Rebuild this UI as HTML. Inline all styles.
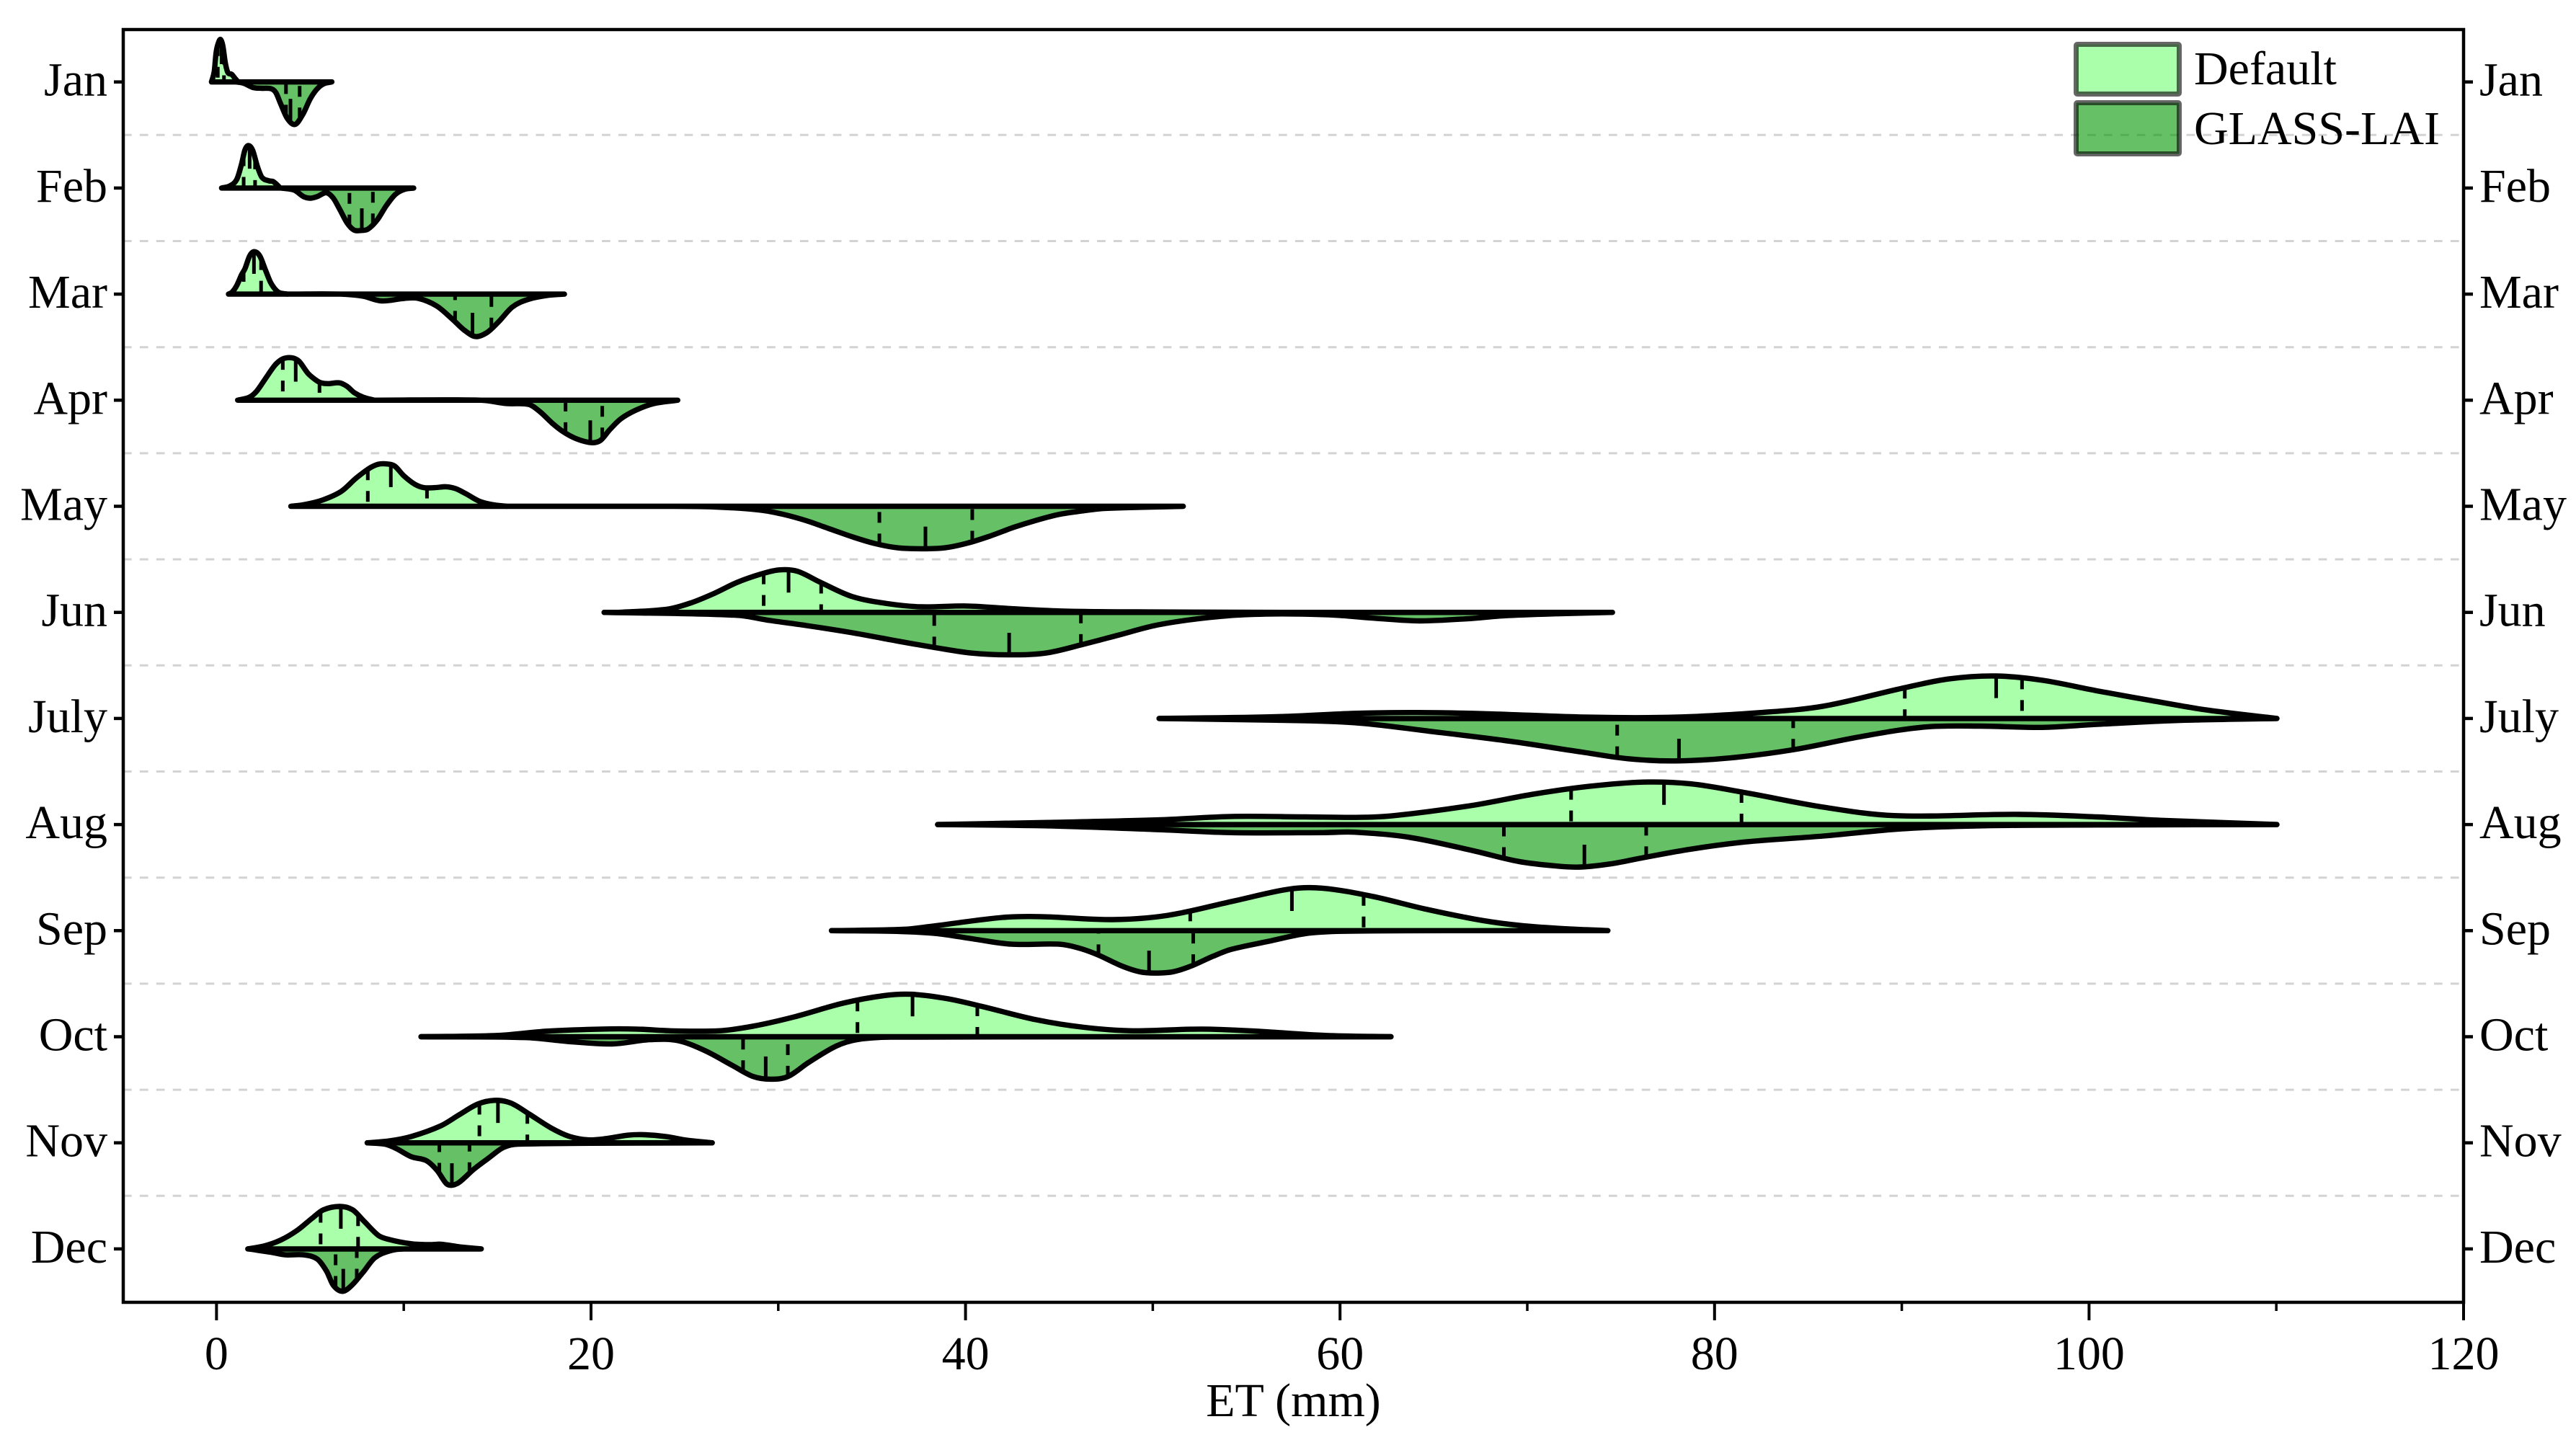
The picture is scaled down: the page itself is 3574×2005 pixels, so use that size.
<!DOCTYPE html>
<html lang="en">
<head>
<meta charset="utf-8">
<title>Monthly ET distribution: Default vs GLASS-LAI</title>
<style>
html,body{margin:0;padding:0;background:#fff;}
svg{display:block;}
text{font-family:"Liberation Serif","Times New Roman",serif;fill:#000;}
</style>
</head>
<body>
<svg id="chart" xmlns="http://www.w3.org/2000/svg" width="3574" height="2005" viewBox="0 0 3574 2005"></svg>
<script>
const months = ["Jan","Feb","Mar","Apr","May","Jun","July","Aug","Sep","Oct","Nov","Dec"];
const xMajorTicks = [0,20,40,60,80,100,120];
const xMinorTicks = [10,30,50,70,90,110];
const seriesNames = ["Default","GLASS-LAI"];

const defaultEt = [
 [-0.27,-0.12,-0.02,0.1,0.22,0.34,0.47,0.61,0.81,0.96,1.15],
 [0.27,0.71,1.08,1.33,1.52,1.72,1.94,2.19,2.43,2.8,3.04,3.41],
 [0.64,0.84,1.08,1.33,1.52,1.77,2.01,2.31,2.63,2.92,3.29,3.78],
 [1.13,1.75,2.14,2.63,3.13,3.52,4.01,4.4,4.89,5.29,5.58,5.97,6.56,6.96,7.35,7.84,8.43],
 [3.97,4.7,5.68,6.66,7.45,8.14,8.63,9.02,9.51,10.0,10.59,11.08,11.67,12.26,12.75,13.34,14.03,14.72,15.5],
 [20.7,21.68,24.14,25.37,26.59,27.82,29.05,30.03,31.01,32.24,33.96,35.92,37.64,40.09,42.55,45.25,49.9,57.7,74.5],
 [50.34,56.6,60.78,64.12,67.87,73.3,77.89,82.48,85.82,90.0,92.5,95.0,97.5,100.43,103.35,106.27,110.03],
 [38.51,44.4,50.3,54.2,58.15,61.1,62.9,67.04,70.38,73.3,76.2,78.72,81.65,85.82,89.58,96.25,100.43,103.77,110.03],
 [32.84,36.67,38.14,41.97,44.03,47.86,50.8,54.34,57.29,59.06,61.7,64.65,67.6,69.66,72.02,74.3],
 [10.92,15.04,17.62,20.57,22.41,24.25,26.83,28.67,30.88,33.45,35.66,37.13,38.98,40.82,43.76,46.34,48.92,52.6,55.54,59.2,62.72],
 [8.05,9.23,10.41,11.98,12.96,13.94,14.83,15.71,16.69,17.87,18.85,19.84,20.82,21.99,22.88,23.96,25.14,26.47],
 [1.67,2.55,3.44,4.32,5.1,5.7,6.58,7.27,7.86,8.64,9.23,10.41,11.39,11.98,12.96,14.14]
];
const defaultDensity = [
 [0,0.25,0.7,0.92,1,0.85,0.45,0.22,0.18,0.1,0],
 [0,0.05,0.2,0.55,0.9,1,0.88,0.5,0.25,0.17,0.15,0],
 [0,0.05,0.2,0.45,0.6,0.9,1,0.9,0.55,0.25,0.05,0],
 [0,0.07,0.21,0.52,0.83,0.97,1,0.92,0.63,0.48,0.41,0.39,0.41,0.33,0.18,0.07,0],
 [0,0.04,0.15,0.35,0.66,0.89,0.99,1,0.95,0.72,0.52,0.44,0.44,0.46,0.42,0.29,0.12,0.04,0],
 [0,0.005,0.08,0.23,0.45,0.71,0.9,1,0.97,0.71,0.37,0.2,0.13,0.15,0.085,0.03,0.01,0,0],
 [0,0.04,0.12,0.14,0.11,0.03,0.03,0.14,0.29,0.71,0.93,1,0.9,0.65,0.42,0.2,0],
 [0,0.05,0.11,0.19,0.18,0.17,0.21,0.45,0.72,0.9,1,0.96,0.75,0.41,0.21,0.24,0.18,0.1,0],
 [0,0.03,0.1,0.31,0.33,0.26,0.36,0.7,0.98,1,0.81,0.5,0.24,0.12,0.045,0],
 [0,0.03,0.13,0.18,0.18,0.14,0.14,0.25,0.47,0.79,0.97,1,0.9,0.72,0.4,0.22,0.14,0.18,0.13,0.03,0],
 [0,0.045,0.15,0.4,0.66,0.91,1,0.94,0.68,0.35,0.15,0.07,0.1,0.18,0.19,0.15,0.06,0],
 [0,0.07,0.21,0.44,0.72,0.92,1,0.92,0.66,0.32,0.22,0.12,0.1,0.11,0.05,0]
];
const glassEt = [
 [1.08,1.45,1.94,2.43,2.92,3.17,3.41,3.78,4.2,4.64,5.0,5.38,5.74,6.16],
 [3.41,4.15,4.64,5.0,5.38,5.87,6.24,6.6,6.97,7.34,7.71,8.08,8.57,9.06,9.55,10.04,10.53],
 [3.78,6.6,7.83,8.8,10.04,10.78,11.76,12.62,13.23,13.84,14.46,15.07,15.81,16.67,17.65,18.58],
 [8.43,14.13,15.5,16.68,17.27,17.95,18.54,19.23,20.02,20.5,20.99,21.59,22.37,23.35,24.63],
 [15.5,23.77,26.59,29.05,30.27,31.5,32.73,33.96,35.18,36.41,37.64,38.87,40.09,41.32,42.55,43.78,45.0,46.23,47.46,51.63],
 [20.7,27.82,29.54,31.5,33.96,36.41,38.38,40.34,42.3,44.27,46.23,48.13,50.1,52.06,54.0,56.0,57.95,59.9,61.9,64.24,66.8,68.75,71.7,74.55],
 [50.34,56.6,60.78,64.95,69.13,72.88,75.39,77.89,80.81,84.15,87.91,91.25,94.17,97.5,100.43,104.6,110.03],
 [38.51,44.4,50.3,54.2,59.13,60.78,63.7,67.04,69.54,71.63,72.88,74.55,76.2,78.72,81.65,85.82,90.0,94.17,100.4,110.03],
 [32.84,36.55,38.5,40.48,42.44,45,45.98,46.96,48.33,49.3,50.1,51.08,52.07,53.24,54.2,56.2,58.15,60.12,67.3,74.3],
 [10.92,16.52,18.73,21.12,23.14,24.62,26.09,27.56,28.67,29.59,30.51,31.61,33.09,34.19,36,62.72],
 [8.05,9.03,9.62,10.41,11.2,11.78,12.27,12.57,12.96,13.75,14.53,15.32,16.1,26.47],
 [1.69,2.92,3.66,4.64,5.38,5.87,6.24,6.73,7.22,7.83,8.45,9.3,10.04,14.09]
];
const glassDensity = [
 [0,0.03,0.13,0.15,0.16,0.25,0.5,0.86,1,0.74,0.4,0.16,0.04,0],
 [0,0.05,0.2,0.24,0.2,0.11,0.24,0.52,0.82,0.99,1,0.97,0.76,0.42,0.15,0.03,0],
 [0,0,0.05,0.16,0.1,0.1,0.28,0.6,0.85,1,0.9,0.65,0.3,0.12,0.03,0],
 [0,0,0.08,0.1,0.27,0.55,0.75,0.91,1,0.95,0.7,0.44,0.24,0.08,0],
 [0,0,0.015,0.09,0.19,0.34,0.53,0.72,0.88,0.98,1,0.98,0.87,0.7,0.5,0.33,0.19,0.11,0.05,0],
 [0,0.07,0.19,0.31,0.48,0.68,0.83,0.96,1,0.96,0.76,0.54,0.31,0.17,0.08,0.04,0.04,0.07,0.14,0.2,0.15,0.08,0.03,0],
 [0,0.04,0.1,0.31,0.54,0.79,0.95,1,0.93,0.74,0.42,0.2,0.18,0.21,0.14,0.05,0],
 [0,0.03,0.12,0.19,0.19,0.18,0.3,0.61,0.87,0.98,1,0.92,0.78,0.58,0.41,0.27,0.1,0.03,0.01,0],
 [0,0.02,0.07,0.2,0.32,0.32,0.4,0.55,0.83,0.97,1,0.97,0.83,0.6,0.44,0.25,0.07,0.015,0,0],
 [0,0.02,0.11,0.17,0.07,0.09,0.33,0.68,0.94,1,0.94,0.61,0.22,0.07,0.01,0],
 [0,0.035,0.14,0.33,0.42,0.65,0.96,1,0.93,0.62,0.36,0.11,0.03,0],
 [0,0.08,0.14,0.14,0.24,0.52,0.86,1,0.86,0.55,0.21,0.04,0,0]
];
const defaultQuartiles = [
 [0.07,0.27,0.4],[1.45,1.77,2.06],[1.45,2.0,2.38],[3.54,4.23,5.5],
 [8.08,9.31,11.24],[29.22,30.55,32.29],[90.16,95.04,96.42],[72.34,77.3,81.44],
 [52.0,57.43,61.26],[34.23,37.17,40.63],[14.04,15.03,16.6],[5.56,6.64,7.56]
];
const glassQuartiles = [
 [3.71,3.95,4.44],[7.1,7.76,8.35],[12.74,13.67,14.68],[18.64,19.96,20.6],
 [35.4,37.86,40.36],[38.33,42.33,46.16],[74.8,78.1,84.2],[68.75,73.05,76.35],
 [47.1,49.8,52.16],[28.12,29.33,30.51],[11.9,12.57,13.51],[6.36,6.77,7.49]
];

const NS = "http://www.w3.org/2000/svg";
const svg = document.getElementById("chart");
const plotLeft = 171, plotRight = 3418, plotTop = 41, plotBottom = 1807;
const lightGreen = "#aaffaa", darkGreen = "#66c066";
const labelSize = 66;

function xScale(v){ return plotLeft + (v + 4.98) * (plotRight - plotLeft) / 124.98; }
function yCenter(i){ return 113.7 + 147.2 * i; }
function densityOffset(d){ return d * 0.4 * 147.2; }

function make(tag, attrs, parent){
  const node = document.createElementNS(NS, tag);
  for (const k in attrs) node.setAttribute(k, attrs[k]);
  (parent || svg).appendChild(node);
  return node;
}

/* Smooth cubic path: central-difference tangents so peaks stay rounded */
function smoothPath(px, py){
  const n = px.length, m = [];
  for (let i = 0; i < n; i++){
    const a = Math.max(i - 1, 0), b = Math.min(i + 1, n - 1);
    m[i] = (py[b] - py[a]) / ((px[b] - px[a]) || 1e-6);
  }
  let path = "M" + px[0].toFixed(1) + "," + py[0].toFixed(1);
  for (let i = 0; i < n - 1; i++){
    const h = (px[i+1] - px[i]) / 3;
    path += "C" + (px[i]+h).toFixed(1) + "," + (py[i]+m[i]*h).toFixed(1) + " " +
            (px[i+1]-h).toFixed(1) + "," + (py[i+1]-m[i+1]*h).toFixed(1) + " " +
            px[i+1].toFixed(1) + "," + py[i+1].toFixed(1);
  }
  return path;
}

function densityAt(et, den, v){
  if (v <= et[0]) return den[0];
  for (let i = 1; i < et.length; i++){
    if (v <= et[i]) {
      const t = (v - et[i-1]) / (et[i] - et[i-1]);
      return den[i-1] + t * (den[i] - den[i-1]);
    }
  }
  return den[den.length - 1];
}

/* grid lines between months */
const gridGroup = make("g", {});


for (let i = 0; i < months.length - 1; i++){
  const yg = (yCenter(i) + yCenter(i+1)) / 2;
  const grid = make("line", {x1:plotLeft, x2:plotRight, y1:yg, y2:yg, stroke:"#d3d3d3", "stroke-width":3, "stroke-dasharray":"11.7 11.2"}, gridGroup);
  
  
}

/* violins */
function drawHalf(i, et, den, quart, sign, fill, label){
  const group = make("g", {});
  
  
  const cy = yCenter(i);
  const px = et.map(xScale);
  const py = den.map(function(d){ return cy - sign * densityOffset(d); });
  const body = make("path", {
    d: smoothPath(px, py) + "L" + px[0].toFixed(1) + "," + cy.toFixed(1) + "Z",
    fill: fill, stroke:"#000", "stroke-width":7.4, "stroke-linejoin":"round", "stroke-linecap":"round"
  }, group);
  
  
  quart.forEach(function(q, k){
    const outer = cy - sign * densityOffset(densityAt(et, den, q));
    const isMedian = k === 1;
    const mark = make("line", {
      x1:xScale(q), x2:xScale(q), y1:outer, y2:cy, stroke:"#000",
      "stroke-width": 5, "stroke-dasharray": isMedian ? "30.5 30.5" : "15 15"
    }, group);
    
    
  });
}
for (let i = 0; i < months.length; i++){
  drawHalf(i, glassEt[i], glassDensity[i], glassQuartiles[i], -1, darkGreen, 'glass-lai');
  drawHalf(i, defaultEt[i], defaultDensity[i], defaultQuartiles[i], 1, lightGreen, 'default');
}

/* frame */
const frame = make("rect", {x:plotLeft, y:plotTop, width:plotRight-plotLeft, height:plotBottom-plotTop, fill:"none", stroke:"#000", "stroke-width":4.5});



/* x axis */
xMajorTicks.forEach(function(v){
  const x = xScale(v);
  const t = make("line", {x1:x, x2:x, y1:plotBottom, y2:plotBottom+25, stroke:"#000", "stroke-width":4});
  
  
  const lab = make("text", {x:x, y:1900, "text-anchor":"middle", "font-size":labelSize});
  lab.textContent = String(v);
  
  
});
xMinorTicks.forEach(function(v){
  const x = xScale(v);
  const t = make("line", {x1:x, x2:x, y1:plotBottom, y2:plotBottom+12, stroke:"#000", "stroke-width":3.5});
  
  
});
const xTitle = make("text", {x:1794.5, y:1965, "text-anchor":"middle", "font-size":labelSize});
xTitle.textContent = "ET (mm)";



/* y axes */
months.forEach(function(name, i){
  const y = yCenter(i);
  const tl = make("line", {x1:plotLeft-13, x2:plotLeft, y1:y, y2:y, stroke:"#000", "stroke-width":4.5});
  
  
  const tr = make("line", {x1:plotRight, x2:plotRight+13, y1:y, y2:y, stroke:"#000", "stroke-width":4.5});
  
  
  const ll = make("text", {x:149, y:y+19, "text-anchor":"end", "font-size":labelSize});
  ll.textContent = name;
  
  
  const lr = make("text", {x:3440, y:y+19, "text-anchor":"start", "font-size":labelSize});
  lr.textContent = name;
  
  
});

/* legend */
const legend = make("g", {});


const patch1 = make("rect", {x:2880.5, y:61.5, width:143, height:69, rx:1.5, fill:lightGreen, stroke:"#000", "stroke-opacity":0.6, "stroke-width":7}, legend);


const label1 = make("text", {x:3044, y:117, "font-size":labelSize}, legend);
label1.textContent = seriesNames[0];


const patch2 = make("rect", {x:2880.5, y:142.5, width:143, height:71, rx:1.5, fill:"rgb(0,150,0)", "fill-opacity":0.6, stroke:"#000", "stroke-opacity":0.6, "stroke-width":7}, legend);


const label2 = make("text", {x:3044, y:200, "font-size":labelSize}, legend);
label2.textContent = seriesNames[1];


</script>
</body>
</html>
